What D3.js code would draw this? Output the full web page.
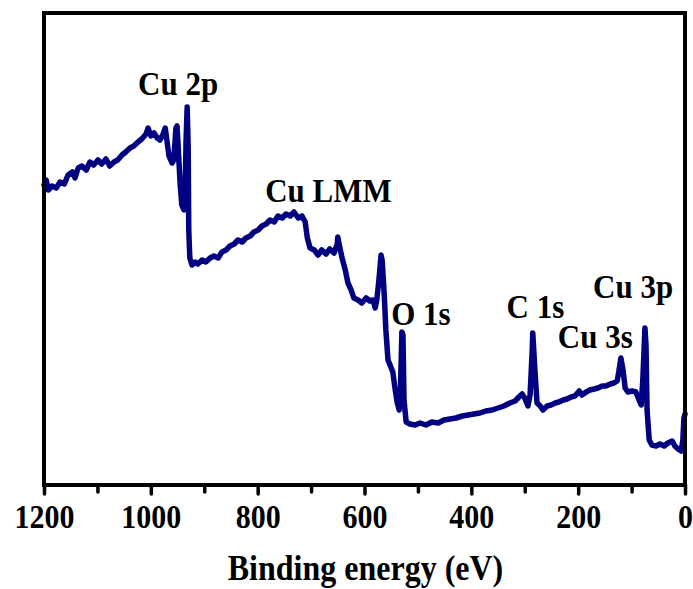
<!DOCTYPE html>
<html>
<head>
<meta charset="utf-8">
<script src="https://cdn.jsdelivr.net/npm/d3@7"></script>
<style>
  body { margin: 0; background: #fff; }
  text { font-family: "Times New Roman", "Liberation Serif", serif; font-weight: bold; }
</style>
</head>
<body>
<div id="xps"></div>
<script>
// Binding energy (eV) and intensity (a.u.)
const energy = [
  1200, 1196, 1192, 1185, 1177, 1170, 1162, 1155, 1147, 1142, 1136, 1129, 1121, 1114, 1107, 1099,
  1092, 1084, 1077, 1069, 1062, 1054, 1047, 1039, 1032, 1024, 1017, 1009, 1005, 1000, 994, 988,
  983, 977, 973, 970, 966, 960, 957, 953, 951, 949, 945, 942, 938, 936, 934, 932, 930, 929, 927,
  923, 917, 912, 904, 897, 889, 882, 874, 867, 859, 852, 844, 837, 829, 822, 814, 807, 799, 792,
  784, 777, 769, 762, 754, 747, 739, 732, 724, 717, 711, 707, 702, 694, 687, 680, 672, 665, 657,
  651, 650, 646, 642, 636, 631, 625, 620, 612, 605, 597, 590, 584, 580, 577, 573, 569, 567, 563,
  560, 556, 550, 547, 543, 539, 535, 533, 530, 528, 526, 522, 515, 505, 496, 485, 474, 462, 451,
  440, 429, 417, 406, 395, 384, 373, 361, 350, 339, 328, 318, 311, 305, 300, 294, 290, 286, 285,
  281, 277, 271, 266, 258, 251, 243, 236, 228, 221, 213, 206, 198, 193, 185, 178, 170, 163, 155,
  148, 140, 133, 127, 124, 120, 116, 112, 107, 99, 92, 86, 82, 79, 75, 73, 71, 67, 62, 54, 47,
  39, 32, 24, 19, 13, 7, 4, 2, 0
];
const intensity = [
  300, 305, 295, 299, 297, 303, 301, 310, 313, 307, 317, 319, 315, 323, 320, 325,
  321, 326, 319, 323, 325, 330, 333, 337, 339, 343, 346, 351, 357, 349, 352, 347,
  345, 351, 357, 345, 329, 322, 325, 357, 359, 340, 300, 280, 275, 290, 345, 378, 335, 255, 227,
  220, 223, 221, 225, 223, 227, 229, 227, 233, 235, 239, 241, 245, 243, 247, 249, 253, 255, 259,
  261, 265, 263, 269, 267, 271, 269, 273, 267, 269, 263, 247, 237, 235, 230, 235, 231, 236, 232,
  241, 248, 237, 227, 215, 202, 195, 187, 185, 182, 187, 184, 185, 177, 185, 205, 230, 225, 190,
  155, 125, 117, 113, 97, 83, 75, 90, 153, 150, 85, 63, 61, 60, 62, 60, 63, 62, 65,
  66, 67, 69, 70, 71, 72, 74, 75, 77, 79, 82, 84, 88, 91, 87, 79, 90, 135, 152,
  115, 82, 79, 75, 79, 80, 82, 83, 85, 86, 88, 89, 94, 90, 93, 95, 96, 97, 99,
  99, 101, 102, 104, 113, 127, 115, 97, 93, 94, 93, 85, 80, 105, 157, 140, 75, 45, 40, 39, 41,
  39, 42, 44, 39, 36, 34, 45, 67, 71
];

const peakNames = ["Cu 2p", "Cu LMM", "O 1s", "C 1s", "Cu 3s", "Cu 3p"];
// label anchor: left edge energy, baseline intensity
const peakLabelE = [1024, 786, 550, 334, 238, 172];
const peakLabelI = [390, 283, 160, 167, 137, 187];

const majorTicks = [1200, 1000, 800, 600, 400, 200, 0];
const minorTicks = [1100, 900, 700, 500, 300, 100];

const margin = {top: 13, right: 8, bottom: 104, left: 44},
    width = 693 - margin.left - margin.right,
    height = 589 - margin.top - margin.bottom;

// the original lettering is a little taller than plain Times
const stretch = 1.12;

const svg = d3
    .select("#xps")
    .append("svg")
    .attr("width", width + margin.left + margin.right)
    .attr("height", height + margin.top + margin.bottom)
    .append("g")
    .attr("transform", `translate(${margin.left},${margin.top})`);

const xScale = d3.scaleLinear().domain([1200, 0]).range([0, width]);
const yScale = d3.scaleLinear().domain([0, height]).range([height, 0]);

const data = energy.map((e, i) => ({e: e, v: intensity[i]}));

const line = d3.line()
    .x((d) => xScale(d.e))
    .y((d) => yScale(d.v));

svg.append("path")
    .datum(data)
    .attr("fill", "none")
    .attr("stroke", "#000080")
    .attr("stroke-width", 5.5)
    .attr("stroke-linejoin", "round")
    .attr("stroke-linecap", "round")
    .attr("d", line);

// minor ticks
svg.append("g")
    .attr("transform", `translate(0, ${height})`)
    .call(d3.axisBottom(xScale).tickValues(minorTicks).tickSize(7).tickFormat(""))
    .call((g) => g.select(".domain").remove())
    .call((g) => g.selectAll("line").attr("stroke-width", 3.5).attr("stroke-linecap", "round"));

// major ticks with labels
const xAxis = svg.append("g")
    .attr("transform", `translate(0, ${height})`)
    .call(d3.axisBottom(xScale).tickValues(majorTicks).tickSize(9).tickFormat(d3.format("d")))
    .call((g) => g.select(".domain").remove());
xAxis.selectAll("line").attr("stroke-width", 3.5).attr("stroke-linecap", "round");
xAxis.selectAll("text")
    .attr("y", 0)
    .attr("dy", null)
    .attr("transform", `translate(0,43) scale(1,${stretch})`)
    .attr("fill", "#000")
    .style("font-size", "30px")
    .style("font-family", "'Times New Roman', 'Liberation Serif', serif")
    .style("font-weight", "bold");

// frame
svg.append("rect")
    .attr("x", 0)
    .attr("y", 0)
    .attr("width", width)
    .attr("height", height)
    .attr("fill", "none")
    .attr("stroke", "black")
    .attr("stroke-width", 4);

svg.append("text")
    .attr("text-anchor", "middle")
    .attr("transform", `translate(${width / 2 + 1},${height + 95}) scale(1,${stretch})`)
    .style("font-size", "32px")
    .text("Binding energy (eV)");

svg.append("g")
    .selectAll("text")
    .data(peakNames)
    .join("text")
    .attr("transform", (d, i) =>
        `translate(${xScale(peakLabelE[i])},${yScale(peakLabelI[i])}) scale(1,${stretch})`)
    .style("font-size", "31px")
    .text((d) => d);
</script>
</body>
</html>
